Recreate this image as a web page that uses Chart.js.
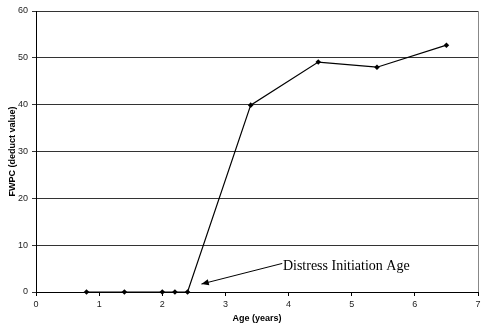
<!DOCTYPE html>
<html>
<head>
<meta charset="utf-8">
<script src="https://cdn.jsdelivr.net/npm/chart.js@4"></script>
<style>
  html, body { margin: 0; padding: 0; background: #fff; }
  #wrap { width: 498px; height: 328px; }
</style>
</head>
<body>
<div id="wrap"><canvas id="chart" width="498" height="328"></canvas></div>
<script>
// Data
const ages = [0.8, 1.4, 2.0, 2.2, 2.4, 3.4, 4.47, 5.4, 6.5];
const fwpc = [0, 0, 0, 0, 0, 39.9, 49.1, 48.0, 52.7];

// Annotation (data coordinates)
const noteText = "Distress Initiation Age";
const noteAt = [3.91, 5.4];
const arrowFrom = [3.9, 6.1];
const arrowTo = [2.62, 1.7];

// Draws the right border plus the arrow and label
const extras = {
  id: "extras",
  afterDatasetsDraw(chart) {
    const { ctx, chartArea, scales } = chart;
    const x = scales.x, y = scales.y;

    ctx.save();
    ctx.strokeStyle = "#888";
    ctx.lineWidth = 1;
    ctx.beginPath();
    ctx.moveTo(Math.round(chartArea.right) + 0.5, chartArea.top);
    ctx.lineTo(Math.round(chartArea.right) + 0.5, chartArea.bottom);
    ctx.stroke();

    // arrow
    const x1 = x.getPixelForValue(arrowFrom[0]), y1 = y.getPixelForValue(arrowFrom[1]);
    const x2 = x.getPixelForValue(arrowTo[0]), y2 = y.getPixelForValue(arrowTo[1]);
    ctx.strokeStyle = "#000";
    ctx.beginPath();
    ctx.moveTo(x1, y1);
    ctx.lineTo(x2, y2);
    ctx.stroke();
    const ang = Math.atan2(y2 - y1, x2 - x1);
    ctx.fillStyle = "#000";
    ctx.beginPath();
    ctx.moveTo(x2, y2);
    ctx.lineTo(x2 - 8 * Math.cos(ang - 0.4), y2 - 8 * Math.sin(ang - 0.4));
    ctx.lineTo(x2 - 8 * Math.cos(ang + 0.4), y2 - 8 * Math.sin(ang + 0.4));
    ctx.closePath();
    ctx.fill();

    ctx.font = "14px 'Liberation Serif', 'DejaVu Serif', serif";
    ctx.textBaseline = "middle";
    ctx.textAlign = "left";
    ctx.fillText(noteText, x.getPixelForValue(noteAt[0]), y.getPixelForValue(noteAt[1]));
    ctx.restore();
  }
};

const tickFont = { family: "'Liberation Sans', Arial, sans-serif", size: 9 };
const titleFont = { family: "'Liberation Sans', Arial, sans-serif", size: 9, weight: "bold" };

new Chart(document.getElementById("chart"), {
  type: "scatter",
  data: {
    datasets: [{
      data: ages.map((a, i) => ({ x: a, y: fwpc[i] })),
      showLine: true,
      clip: false,
      borderColor: "#000",
      backgroundColor: "#000",
      borderWidth: 1.2,
      pointStyle: "rectRot",
      pointRadius: 2.8,
      pointBorderWidth: 0,
      tension: 0
    }]
  },
  options: {
    responsive: false,
    animation: false,
    layout: { padding: { left: 0, right: 20, top: 11, bottom: 0 } },
    plugins: { legend: { display: false }, tooltip: { enabled: false } },
    scales: {
      x: {
        type: "linear",
        min: 0, max: 7,
        ticks: { stepSize: 1, color: "#222", font: tickFont, padding: 3 },
        grid: { drawOnChartArea: false, tickLength: 4, color: "#000" },
        border: { color: "#000" },
        title: { display: true, text: "Age (years)", color: "#000", font: titleFont, padding: { top: 4 } },
        afterFit(s) { s.height = 36; }
      },
      y: {
        min: 0, max: 60,
        ticks: { stepSize: 10, color: "#222", font: tickFont, padding: 4 },
        grid: { color: "#333", tickLength: 4 },
        border: { color: "#000" },
        title: { display: true, text: "FWPC (deduct value)", color: "#000", font: titleFont, padding: { top: 7, bottom: 0 } },
        afterFit(s) { s.width = 36; }
      }
    }
  },
  plugins: [extras]
});
</script>
</body>
</html>
